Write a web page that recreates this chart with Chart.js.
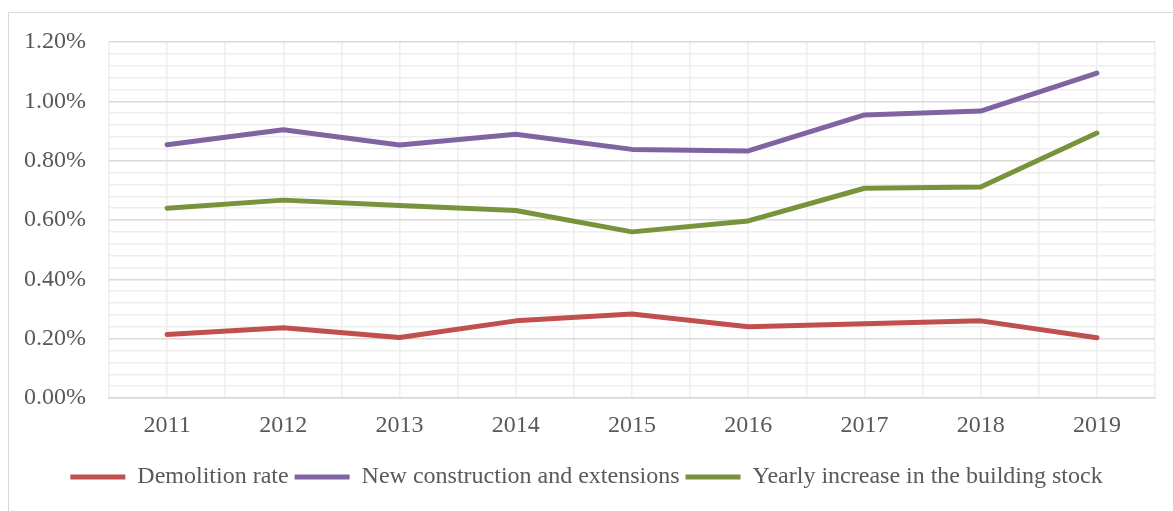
<!DOCTYPE html>
<html>
<head>
<meta charset="utf-8">
<script src="https://cdn.jsdelivr.net/npm/chart.js@4/dist/chart.umd.min.js"></script>
<style>
    html, body { margin: 0; padding: 0; background: #fff; overflow: hidden; }
    #wrap { position: relative; width: 1173px; height: 511px; }
    #frame {
        position: absolute; left: 8px; top: 12px; width: 1300px; height: 600px;
        border: 1.5px solid #d9d9d9; pointer-events: none;
    }
</style>
</head>
<body>
<div id="wrap">
    <div id="frame"></div>
    <canvas id="rateChart"></canvas>
</div>
<script>
// Years on the x axis
const years = ['2011', '2012', '2013', '2014', '2015', '2016', '2017', '2018', '2019'];

// Values in percent
const demolitionRate = [0.214, 0.237, 0.204, 0.260, 0.283, 0.240, 0.250, 0.260, 0.203];
const newConstruction = [0.854, 0.904, 0.853, 0.889, 0.838, 0.833, 0.954, 0.967, 1.095];
const yearlyIncrease = [0.640, 0.667, 0.649, 0.632, 0.560, 0.597, 0.707, 0.711, 0.893];

const seriesNames = ['Demolition rate', 'New construction and extensions', 'Yearly increase in the building stock'];
const seriesColors = ['#c0504d', '#8064a2', '#77933c'];

// Axis range
const yMin = 0;
const yMax = 1.2;
const yMajorStep = 0.2;
const yMinorStep = 0.04;

const textColor = '#595959';
const fontFamily = "'Liberation Serif', 'Times New Roman', serif";
const fontSize = 24;

function lineDataset(label, data, color) {
    return {
        label: label,
        data: data,
        borderColor: color,
        backgroundColor: color,
        borderWidth: 5,
        borderCapStyle: 'round',
        borderJoinStyle: 'round',
        pointRadius: 0,
        pointHoverRadius: 0,
        pointStyle: 'line',
        tension: 0,
        xAxisID: 'x'
    };
}

function isMajor(value) {
    return Math.round(value * 100) % Math.round(yMajorStep * 100) === 0;
}

document.addEventListener('DOMContentLoaded', () => {
    const ctx = document.getElementById('rateChart').getContext('2d');
    new Chart(ctx, {
        type: 'line',
        data: {
            labels: years,
            datasets: [
                lineDataset(seriesNames[0], demolitionRate, seriesColors[0]),
                lineDataset(seriesNames[1], newConstruction, seriesColors[1]),
                lineDataset(seriesNames[2], yearlyIncrease, seriesColors[2])
            ]
        },
        options: {
            responsive: true,
            maintainAspectRatio: false,
            animation: false,
            devicePixelRatio: 1,
            layout: {
                padding: { top: 42, right: 18, bottom: 12, left: 18 }
            },
            plugins: {
                tooltip: { enabled: false },
                legend: {
                    position: 'bottom',
                    labels: {
                        usePointStyle: true,
                        pointStyleWidth: 55,
                        padding: 6,
                        color: textColor,
                        font: { family: fontFamily, size: fontSize }
                    }
                }
            },
            scales: {
                x: {
                    type: 'category',
                    position: 'bottom',
                    offset: true,
                    grid: {
                        offset: true,
                        color: '#eeeeee',
                        lineWidth: 1.5,
                        drawTicks: false
                    },
                    border: { display: true, color: '#d9d9d9', width: 1.5 },
                    ticks: {
                        padding: 13.5,
                        color: textColor,
                        font: { family: fontFamily, size: fontSize },
                        maxRotation: 0
                    },
                    afterFit: (scale) => { scale.height = 61; }
                },
                xCenters: {
                    type: 'category',
                    position: 'top',
                    labels: years,
                    offset: true,
                    grid: {
                        offset: false,
                        color: '#eeeeee',
                        lineWidth: 1.5,
                        drawTicks: false
                    },
                    border: { display: false },
                    ticks: { display: false },
                    afterFit: (scale) => { scale.height = 0; }
                },
                y: {
                    min: yMin,
                    max: yMax,
                    border: { display: false },
                    grid: {
                        drawTicks: false,
                        lineWidth: 1.5,
                        color: (c) => isMajor(c.tick.value) ? '#d9d9d9' : '#eeeeee'
                    },
                    ticks: {
                        stepSize: yMinorStep,
                        autoSkip: false,
                        padding: 23,
                        color: textColor,
                        font: { family: fontFamily, size: fontSize },
                        callback: (value) => isMajor(value) ? value.toFixed(2) + '%' : ''
                    },
                    afterFit: (scale) => { scale.width = 91; }
                }
            }
        }
    });
});
</script>
</body>
</html>
